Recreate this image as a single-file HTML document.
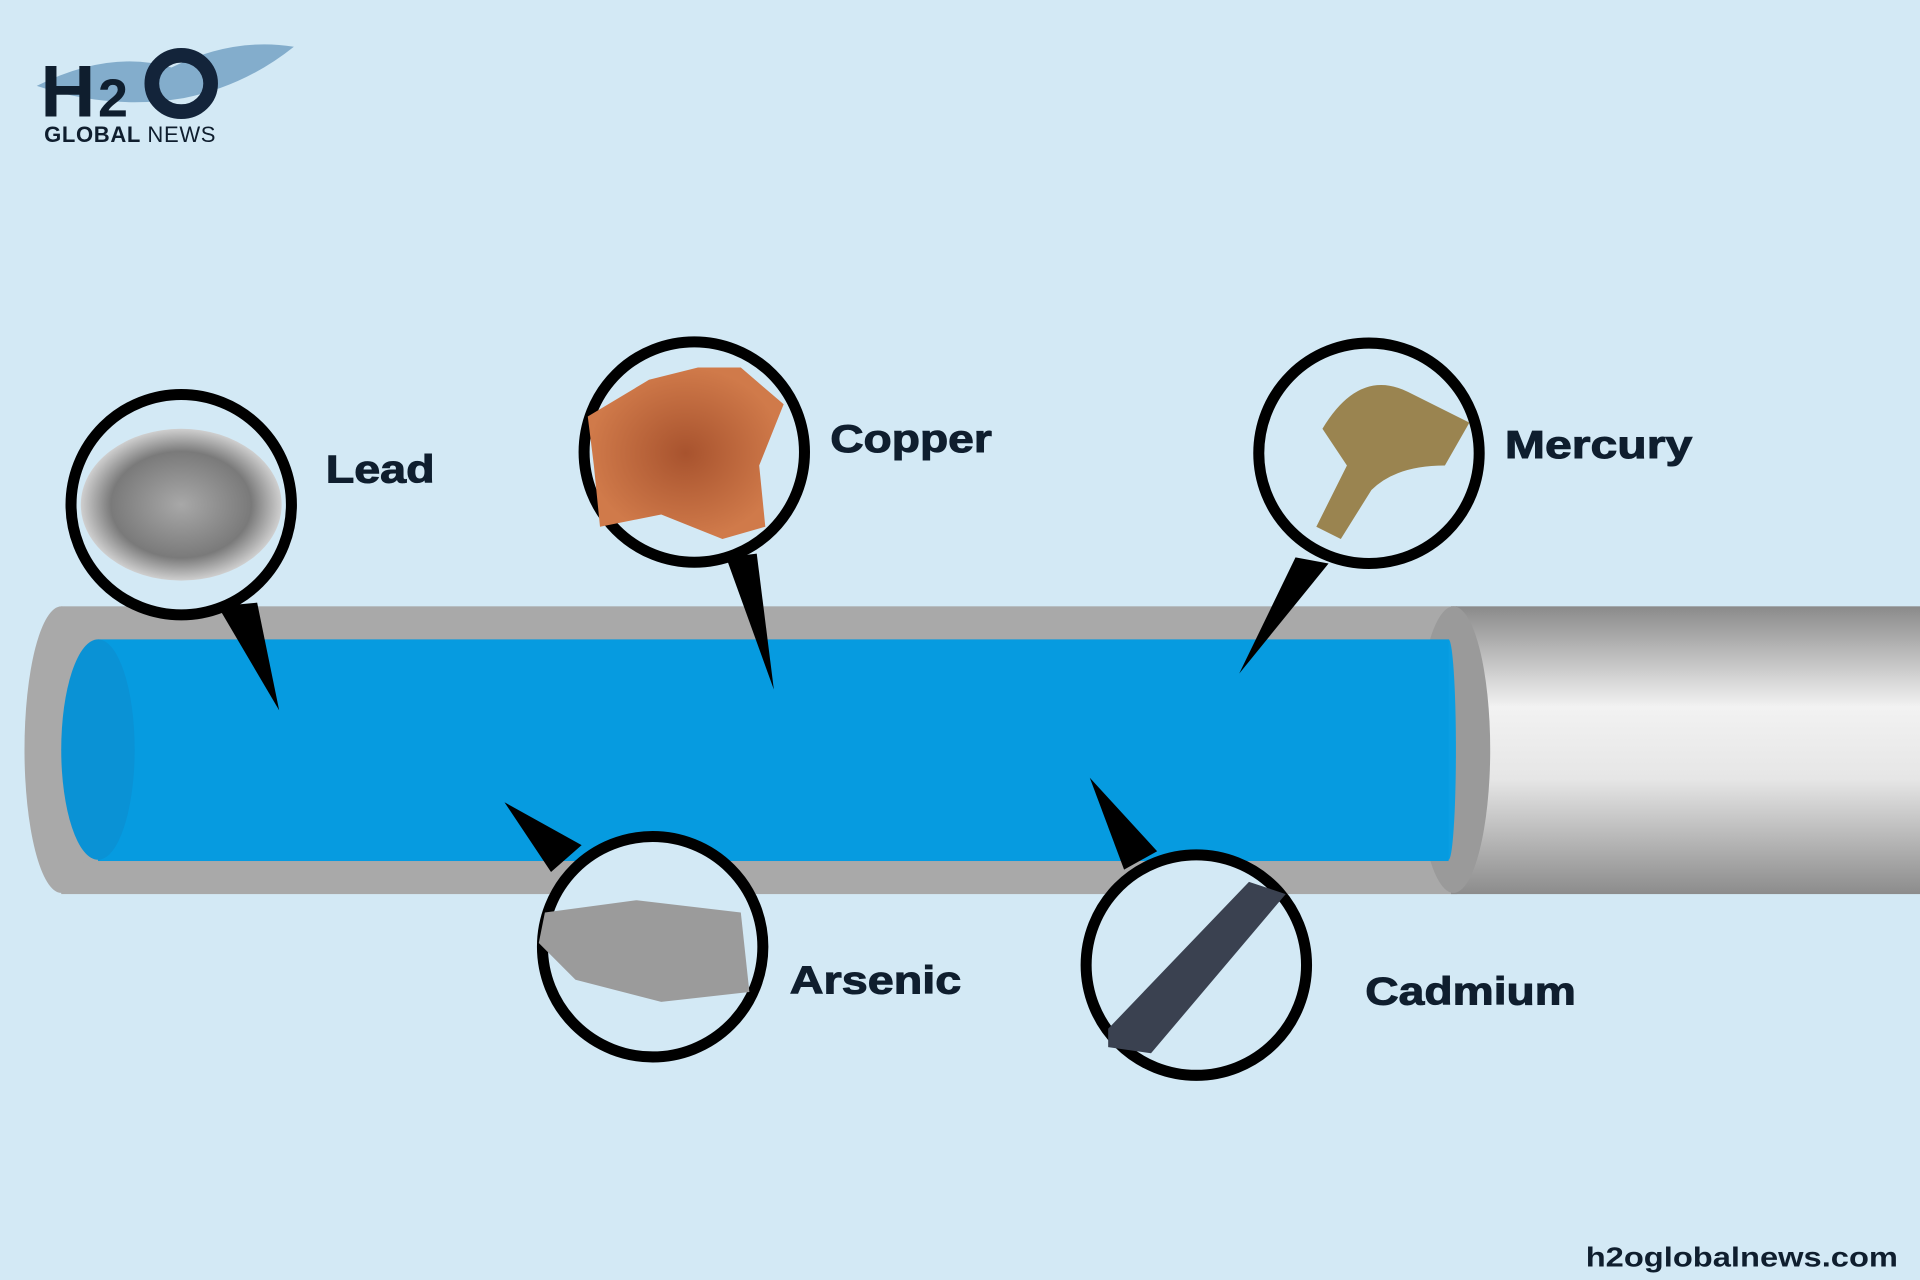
<!DOCTYPE html>
<html><head><meta charset="utf-8"><style>
html,body{margin:0;padding:0;background:#d3e9f5;}
svg{display:block;}
text{font-family:"Liberation Sans",sans-serif;font-weight:bold;fill:#0f1e2e;}
.lb{stroke:#0f1e2e;stroke-width:0.8;}
</style></head><body>
<svg width="1920" height="1280" viewBox="0 0 1568 1045" xmlns="http://www.w3.org/2000/svg">
<defs>
<linearGradient id="cyl" x1="0" y1="0" x2="0" y2="1">
<stop offset="0" stop-color="#8a8a8a"/><stop offset="0.35" stop-color="#f2f2f2"/><stop offset="0.6" stop-color="#e6e6e6"/><stop offset="1" stop-color="#8c8c8c"/></linearGradient>
<radialGradient id="lead"><stop offset="0" stop-color="#a8a8a8"/><stop offset="0.7" stop-color="#7a7a7a"/><stop offset="1" stop-color="#cfcfcf"/></radialGradient>
<radialGradient id="cop"><stop offset="0" stop-color="#a8532e"/><stop offset="1" stop-color="#d07a4a"/></radialGradient>
</defs>
<rect width="1568" height="1045" fill="#d3e9f5"/>
<!-- logo -->
<path d="M30 70 Q90 40 140 55 Q190 30 240 38 Q200 70 150 80 Q90 90 30 70Z" fill="#4f86b0" opacity="0.6"/>
<text x="33" y="95" font-size="60" textLength="45" lengthAdjust="spacingAndGlyphs" fill="#13243a">H</text>
<text x="80" y="95" font-size="44" fill="#13243a">2</text>
<ellipse cx="148" cy="68" rx="24" ry="23" fill="none" stroke="#13243a" stroke-width="12"/>
<text x="36" y="116" font-size="18" textLength="140" fill="#13243a">GLOBAL <tspan font-weight="normal">NEWS</tspan></text>
<!-- pipe -->
<rect x="50" y="495" width="1140" height="235" fill="#a9a9a9"/>
<ellipse cx="50" cy="612" rx="30" ry="117" fill="#a9a9a9"/>
<rect x="1185" y="495" width="383" height="235" fill="url(#cyl)"/>
<ellipse cx="1187" cy="612" rx="30" ry="117" fill="#9a9a9a"/>
<ellipse cx="1183" cy="612" rx="6" ry="90" fill="#0a9ee2"/>
<rect x="80" y="522" width="1103" height="181" fill="#069be0"/>
<ellipse cx="80" cy="612" rx="30" ry="90" fill="#0a92d5"/>
<!-- pointers -->
<polygon points="178,495 210,492 228,580" fill="#000"/>
<polygon points="593,455 618,452 632,563" fill="#000"/>
<polygon points="1058,455 1085,460 1012,550" fill="#000"/>
<polygon points="412,655 475,690 450,712" fill="#000"/>
<polygon points="890,635 945,695 918,710" fill="#000"/>
<!-- circles -->
<g fill="#d3e9f5" stroke="#000" stroke-width="9">
<circle cx="148" cy="412" r="90"/>
<circle cx="567" cy="369" r="90"/>
<circle cx="1118" cy="370" r="90"/>
<circle cx="533" cy="773" r="90"/>
<circle cx="977" cy="788" r="90"/>
</g>
<!-- samples -->
<ellipse cx="148" cy="412" rx="82" ry="62" fill="url(#lead)"/>
<path d="M480 340 L530 310 L570 300 L605 300 L640 330 L620 380 L625 430 L590 440 L540 420 L490 430 L485 380Z" fill="url(#cop)"/>
<path d="M1080 350 Q1110 300 1150 320 L1200 345 L1180 380 Q1140 380 1120 400 L1095 440 L1075 430 Q1090 400 1100 380Z" fill="#9a8450"/>
<path d="M445 745 L520 735 L605 745 L612 810 L540 818 L470 800 L440 770Z" fill="#9b9b9b"/>
<path d="M905 840 L1020 720 L1050 730 L940 860 L905 855Z" fill="#3a4150"/>
<!-- labels -->
<text class="lb" x="266" y="394" font-size="32" textLength="89" lengthAdjust="spacingAndGlyphs">Lead</text>
<text class="lb" x="678" y="369" font-size="32" textLength="132" lengthAdjust="spacingAndGlyphs">Copper</text>
<text class="lb" x="1229" y="374" font-size="32" textLength="153" lengthAdjust="spacingAndGlyphs">Mercury</text>
<text class="lb" x="645" y="811" font-size="32" textLength="140" lengthAdjust="spacingAndGlyphs">Arsenic</text>
<text class="lb" x="1115" y="820" font-size="32" textLength="172" lengthAdjust="spacingAndGlyphs">Cadmium</text>
<text x="1295" y="1034" font-size="23" textLength="255" lengthAdjust="spacingAndGlyphs">h2oglobalnews.com</text>
</svg>
</body></html>
